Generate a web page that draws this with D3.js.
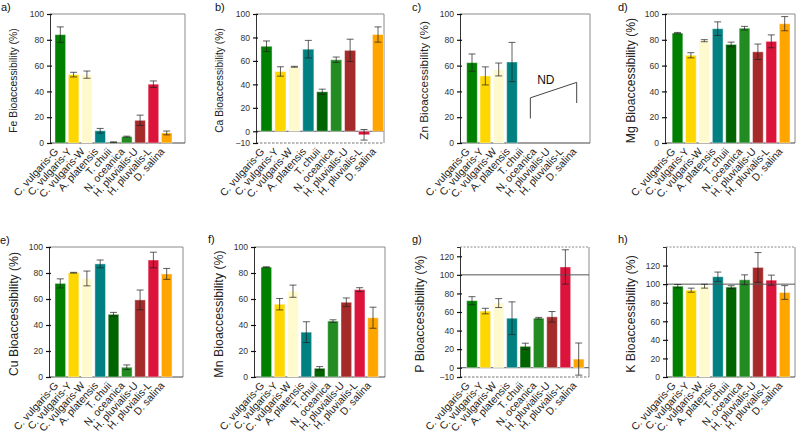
<!DOCTYPE html>
<meta charset="utf-8">
<script src="https://d3js.org/d3.v7.min.js"></script>
<style>
  body { margin: 0; background: #fff; }
  text { font-family: "Liberation Sans", Arial, sans-serif; }
</style>
<div id="my_dataviz"></div>
<script>

// categories and bar colours
var species = ["C. vulgaris-G", "C. vulgaris-Y", "C. vulgaris-W", "A. platensis", "T. chuii",
               "N. oceanica", "H. pluvialis-U", "H. pluvialis-L", "D. salina"];
var barColors = ["#008000", "#ffd700", "#fffacd", "#008080", "#006400",
                 "#228b22", "#a52a2a", "#dc143c", "#ffa500"];

// bioaccessibility (%) means and error bars
var feMean = [84, 53, 53, 9.5, 0.6, 4.9, 17.6, 45.6, 7.8];
var feErr  = [6, 1.8, 2.8, 1.8, 0.3, 0.4, 4, 2.5, 1.5];
var caMean = [72.5, 51, 55, 70, 33.7, 61, 69, -3, 82.5];
var caErr  = [4.5, 4, 0.4, 7.5, 2.2, 2.3, 9.5, 4.5, 6.5];
var znMean = [62.3, 52, 57, 62.8, null, null, null, null, null];
var znErr  = [6.7, 7, 5, 15.2, null, null, null, null, null];
var mgMean = [85.2, 68, 79.3, 88.6, 76.4, 89, 70.7, 78.8, 92.5];
var mgErr  = [0.5, 2, 0.8, 5.3, 1.8, 1.4, 6, 5, 5.5];
var cuMean = [72, 80.2, 75.8, 87, 48.2, 7.5, 59.3, 90, 79.3];
var cuErr  = [3.5, 0.3, 5.7, 3, 1.5, 1.8, 7.6, 6, 4.2];
var mnMean = [84.5, 56, 66, 34.5, 6.7, 43, 57.5, 67.2, 45.6];
var mnErr  = [0.3, 4.4, 4.7, 8, 1.3, 1, 3.3, 1.5, 8.1];
var pMean  = [72.2, 61, 69.6, 53.3, 23, 53.3, 54.8, 108.5, 9.3];
var pErr   = [4.3, 3, 4.8, 17.6, 3.4, 0.9, 5.7, 18.5, 17.3];
var kMean  = [97.8, 93.5, 97.8, 108, 96.8, 104.7, 118, 104.3, 91];
var kErr   = [1.8, 2.2, 2.1, 5, 1.5, 5.3, 16, 5.4, 7.4];

// tick labels
var ticks100 = [0, 20, 40, 60, 80, 100];
var ticksNeg100 = [-10, 0, 20, 40, 60, 80, 100];
var ticksNeg120 = [-10, 0, 20, 40, 60, 80, 100, 120];
var ticks120 = [0, 20, 40, 60, 80, 100, 120];

// ND bracket for Zn (y values on the Zn axis)
var ndBracketY = [19, 35, 47, 31];

// panel layout
var panels = [
  {tag: "a)", el: "Fe", mean: feMean, err: feErr, left: 50, right: 185, top: 14, bottom: 143, c0: 60.3, c1: 166.7, dom: [0, 100], ticks: ticks100, fs: 10.4, lab: 33, tx: 1, ty: 11},
  {tag: "b)", el: "Ca", mean: caMean, err: caErr, left: 256, right: 384, top: 14, bottom: 143, c0: 266.5, c1: 378, dom: [-10, 100], ticks: ticksNeg100, fs: 10.3, lab: 33, tx: 215, ty: 11, zero: true},
  {tag: "c)", el: "Zn", mean: znMean, err: znErr, left: 460, right: 590, top: 14, bottom: 143, c0: 472, c1: 578.7, dom: [0, 100], ticks: ticks100, fs: 11.8, lab: 32, tx: 412, ty: 11, nd: true},
  {tag: "d)", el: "Mg", mean: mgMean, err: mgErr, left: 665, right: 795, top: 14, bottom: 143, c0: 677.5, c1: 784.7, dom: [0, 100], ticks: ticks100, fs: 12.2, lab: 30, tx: 618, ty: 11},
  {tag: "e)", el: "Cu", mean: cuMean, err: cuErr, left: 49, right: 183, top: 247, bottom: 377, c0: 60.3, c1: 166.7, dom: [0, 100], ticks: ticks100, fs: 12.2, lab: 31, tx: 0, ty: 244},
  {tag: "f)", el: "Mn", mean: mnMean, err: mnErr, left: 254, right: 385, top: 247, bottom: 377, c0: 266.3, c1: 373, dom: [0, 100], ticks: ticks100, fs: 12.4, lab: 31, tx: 208, ty: 243},
  {tag: "g)", el: "P", mean: pMean, err: pErr, left: 460, right: 589, top: 247, bottom: 377, c0: 472, c1: 578.7, dom: [-10, 130], ticks: ticksNeg120, fs: 12.3, lab: 36, tx: 412, ty: 243, zero: true, hundred: true, dotTop: true},
  {tag: "h)", el: "K", mean: kMean, err: kErr, left: 666, right: 795, top: 247, bottom: 377, c0: 677.8, c1: 784.7, dom: [0, 140], ticks: ticks120, fs: 12.3, lab: 31, tx: 618, ty: 243, hundred: true, dotTop: true}
];

var svg = d3.select("#my_dataviz")
  .append("svg")
  .attr("width", 797)
  .attr("height", 433);

panels.forEach(function(p) {
  var g = svg.append("g");

  var x = d3.scalePoint().domain(species).range([p.c0, p.c1]);
  var step = (p.c1 - p.c0) / (species.length - 1);
  var bw = step * 0.8;
  var y = d3.scaleLinear().domain(p.dom).range([p.bottom, p.top]);

  // frame: top and right
  g.append("line")
    .attr("x1", p.left).attr("x2", p.right)
    .attr("y1", p.top).attr("y2", p.top)
    .style("stroke", "#8a8a8a").style("stroke-width", 1)
    .style("stroke-dasharray", p.dotTop ? "2,1.5" : null);
  g.append("line")
    .attr("x1", p.right).attr("x2", p.right)
    .attr("y1", p.top).attr("y2", p.bottom)
    .style("stroke", "#8a8a8a").style("stroke-width", 1);

  // bottom line (dashed when the axis goes below zero)
  g.append("line")
    .attr("x1", p.left).attr("x2", p.right)
    .attr("y1", p.bottom).attr("y2", p.bottom)
    .style("stroke", p.dom[0] < 0 ? "#777" : "#444").style("stroke-width", 1)
    .style("stroke-dasharray", p.dom[0] < 0 ? "2.5,1.5" : null);

  if (p.zero) {
    g.append("line")
      .attr("x1", p.left).attr("x2", p.right)
      .attr("y1", y(0)).attr("y2", y(0))
      .style("stroke", "#555").style("stroke-width", 1);
  }

  // bars
  species.forEach(function(s, i) {
    var m = p.mean[i];
    if (m === null) return;
    g.append("rect")
      .attr("x", x(s) - bw / 2)
      .attr("width", bw)
      .attr("y", Math.min(y(m), y(0)))
      .attr("height", Math.abs(y(0) - y(m)))
      .style("fill", barColors[i])
      .style("stroke", "#fff").style("stroke-opacity", 0.45).style("stroke-width", 1);
  });

  if (p.hundred) {
    g.append("line")
      .attr("x1", p.left).attr("x2", p.right)
      .attr("y1", y(100)).attr("y2", y(100))
      .style("stroke", "#555").style("stroke-width", 1);
  }

  // error bars
  species.forEach(function(s, i) {
    var m = p.mean[i], e = p.err[i];
    if (m === null) return;
    var eg = g.append("g").style("stroke", "#222").style("stroke-opacity", 0.8).style("stroke-width", 0.9);
    eg.append("line").attr("x1", x(s)).attr("x2", x(s)).attr("y1", y(m - e)).attr("y2", y(m + e));
    eg.append("line").attr("x1", x(s) - 3.5).attr("x2", x(s) + 3.5).attr("y1", y(m - e)).attr("y2", y(m - e));
    eg.append("line").attr("x1", x(s) - 3.5).attr("x2", x(s) + 3.5).attr("y1", y(m + e)).attr("y2", y(m + e));
  });

  // ND annotation for Zn
  if (p.nd) {
    var bx0 = x("T. chuii") + 5, bx1 = x("D. salina") - 2;
    g.append("path")
      .attr("d", d3.line()([[bx0, y(ndBracketY[0])], [bx0, y(ndBracketY[1])], [bx1, y(ndBracketY[2])], [bx1, y(ndBracketY[3])]]))
      .style("fill", "none").style("stroke", "#444").style("stroke-width", 1);
    g.append("text")
      .attr("x", (x("N. oceanica") + x("H. pluvialis-U")) / 2 + 0.5)
      .attr("y", y(45.5))
      .attr("text-anchor", "middle")
      .style("font-size", "12px").style("fill", "#111")
      .text("ND");
  }

  // y axis
  var ax = g.append("g")
    .attr("transform", "translate(" + p.left + ",0)")
    .call(d3.axisLeft(y).tickValues(p.ticks).tickSize(3).tickPadding(3));
  ax.select(".domain").style("stroke", "#333");
  ax.selectAll(".tick line").attr("x1", 2).style("stroke", "#111").style("stroke-width", 1.2);
  ax.selectAll(".tick text")
    .style("font-family", "'Liberation Sans', Arial, sans-serif")
    .style("font-size", "8.6px").style("fill", "#333")
    .text(function(d) { return d < 0 ? "\u2212" + Math.abs(d) : d; });

  // y label
  g.append("text")
    .attr("transform", "translate(" + (p.left - p.lab) + "," + ((p.top + p.bottom) / 2 + 2) + ") rotate(-90)")
    .attr("text-anchor", "middle")
    .style("font-size", p.fs + "px").style("fill", "#222")
    .text(p.el + " Bioaccessibility (%)");

  // x labels
  species.forEach(function(s) {
    g.append("text")
      .attr("transform", "translate(" + (x(s) - 1.5) + "," + (p.bottom + 9) + ") rotate(-48)")
      .attr("text-anchor", "end")
      .style("font-size", "10.4px").style("fill", "#222")
      .text(s);
  });

  // panel tag
  g.append("text")
    .attr("x", p.tx).attr("y", p.ty)
    .style("font-size", "11px").style("fill", "#111")
    .text(p.tag);
});

</script>
